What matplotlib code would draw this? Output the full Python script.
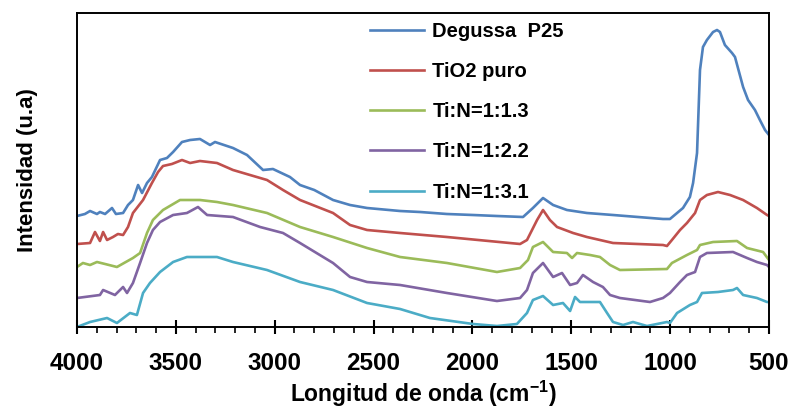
import matplotlib
matplotlib.use("Agg")
from matplotlib import pyplot as plt
from matplotlib.ticker import MultipleLocator

plt.rcParams['font.family'] = ['Liberation Sans', 'DejaVu Sans']
plt.rcParams['font.weight'] = 'bold'
plt.rcParams['mathtext.fontset'] = 'custom'
plt.rcParams['mathtext.bf'] = 'Liberation Sans:bold'

# FTIR spectra (wavenumber in cm-1, intensity in arbitrary units, offset per sample)
wn_p25 = [4000, 3960, 3934, 3899, 3884, 3858, 3823, 3803, 3767, 3742, 3717, 3691, 3671, 3646,
          3621, 3580, 3545, 3514, 3469, 3428, 3378, 3327, 3302, 3211, 3140, 3059, 3009, 2923,
          2872, 2800, 2705, 2619, 2533, 2366, 2265, 2129, 1997, 1876, 1744, 1694, 1643, 1592,
          1522, 1421, 1289, 1036, 1001, 935, 900, 884, 864, 849, 834, 814, 783, 763, 748, 723,
          687, 672, 631, 606, 571, 546, 520, 500]
int_p25 = [111, 113, 116, 113, 115, 113, 119, 113, 114, 122, 127, 142, 134, 144,
           150, 167, 169, 175, 185, 187, 188, 182, 185, 179, 172, 157, 158, 150,
           142, 137, 127, 122, 119, 116, 115, 113, 112, 111, 110, 119, 129, 122,
           117, 114, 112, 108, 108, 119, 130, 144, 174, 257, 280, 287, 295, 297, 295, 282,
           274, 270, 240, 227, 217, 207, 197, 192]

wn_tio2 = [4000, 3934, 3909, 3884, 3868, 3848, 3818, 3793, 3767, 3742, 3717, 3666, 3621, 3590,
           3565, 3520, 3469, 3428, 3378, 3292, 3211, 3125, 3039, 2958, 2872, 2705, 2619, 2533,
           2366, 2129, 1759, 1724, 1673, 1643, 1608, 1572, 1491, 1421, 1289, 1036, 1016, 991,
           950, 915, 874, 849, 814, 758, 697, 631, 561, 510, 500]
int_tio2 = [83, 84, 95, 86, 95, 87, 90, 93, 92, 100, 114, 127, 144, 155,
            161, 163, 167, 164, 166, 164, 157, 152, 147, 137, 127, 114, 102, 97,
            94, 90, 83, 87, 107, 117, 107, 100, 94, 90, 84, 82, 81, 87,
            97, 104, 114, 127, 132, 135, 132, 127, 119, 112, 111]

wn_13 = [4000, 3970, 3934, 3899, 3858, 3798, 3717, 3681, 3646, 3616, 3565, 3479, 3378, 3292,
         3211, 3039, 2872, 2705, 2533, 2366, 2129, 1876, 1759, 1719, 1694, 1643, 1592, 1522,
         1496, 1471, 1405, 1355, 1304, 1254, 1016, 991, 915, 864, 849, 783, 662, 611, 530, 500]
int_13 = [60, 64, 62, 65, 63, 60, 69, 74, 94, 107, 117, 127, 127, 125,
          122, 114, 100, 90, 79, 70, 64, 55, 59, 67, 80, 85, 75, 74,
          69, 74, 72, 70, 62, 57, 58, 64, 72, 77, 82, 85, 86, 79, 75, 67]

wn_22 = [4000, 3884, 3868, 3808, 3767, 3747, 3717, 3681, 3646, 3616, 3580, 3514, 3444, 3388,
         3342, 3211, 3074, 2958, 2872, 2705, 2619, 2533, 2366, 2129, 1876, 1759, 1724, 1694,
         1643, 1592, 1547, 1506, 1471, 1441, 1390, 1340, 1304, 1254, 1102, 1036, 1001, 950,
         915, 874, 849, 814, 682, 611, 561, 510, 500]
int_22 = [29, 32, 37, 32, 40, 34, 44, 64, 84, 97, 105, 112, 114, 120,
          112, 110, 100, 94, 84, 64, 50, 45, 42, 34, 26, 29, 37, 54,
          64, 50, 54, 42, 44, 52, 45, 40, 32, 29, 25, 29, 34, 45,
          52, 55, 70, 74, 75, 69, 65, 62, 60]

wn_31 = [4000, 3934, 3848, 3798, 3732, 3697, 3666, 3631, 3580, 3514, 3444, 3292, 3211, 3039,
         2872, 2705, 2533, 2366, 2215, 1997, 1876, 1775, 1724, 1694, 1643, 1592, 1542, 1506,
         1481, 1456, 1355, 1319, 1289, 1238, 1188, 1117, 1016, 1001, 965, 900, 864, 839,
         758, 682, 662, 631, 561, 510, 500]
int_31 = [0, 5, 9, 4, 14, 12, 34, 44, 55, 65, 70, 70, 65, 57,
          45, 37, 24, 18, 9, 3, 1, 3, 14, 27, 31, 22, 24, 16,
          30, 25, 25, 14, 5, 2, 5, 1, 5, 4, 14, 22, 25, 34,
          35, 37, 39, 32, 29, 25, 25]

labels = ['Degussa  P25', 'TiO2 puro', 'Ti:N=1:1.3', 'Ti:N=1:2.2', 'Ti:N=1:3.1']
colors = ['#4F81BD', '#C0504D', '#9BBB59', '#8064A2', '#4BACC6']

fig = plt.figure(figsize=(7.91, 4.11), dpi=100)
ax = fig.add_axes([77 / 791, 1 - 327 / 411, 692 / 791, 314 / 411])

series = [(wn_p25, int_p25), (wn_tio2, int_tio2), (wn_13, int_13), (wn_22, int_22), (wn_31, int_31)]
for (x, y), lab, c in zip(series, labels, colors):
    ax.plot(x, y, color=c, lw=1.9, label=lab)

ax.set_xlim(4000, 500)
ax.set_ylim(0, 314)
ax.set_yticks([])
ax.xaxis.set_major_locator(MultipleLocator(500))
ax.xaxis.set_minor_locator(MultipleLocator(100))
ax.tick_params(axis='x', which='major', direction='inout', length=10, width=1.5,
               labelsize=17.5, pad=13)
ax.tick_params(axis='x', which='minor', direction='out', length=4.5, width=1.2)
for s in ax.spines.values():
    s.set_linewidth(1.4)

ax.set_xlabel('Longitud de onda (cm$^{\\mathbf{-1}}$)', fontsize=16.5, fontweight='bold', labelpad=3)
ax.set_ylabel('Intensidad (u.a)', fontsize=16, fontweight='bold', labelpad=28)

ax.legend(loc='upper left', bbox_to_anchor=(370 / 791, 1 - 22 / 411), bbox_transform=fig.transFigure,
          frameon=False, handlelength=2.7, handletextpad=0.4, labelspacing=1.05,
          borderpad=0, borderaxespad=0, prop={'weight': 'bold', 'size': 14.5})

fig.savefig('out.png', dpi=100)
